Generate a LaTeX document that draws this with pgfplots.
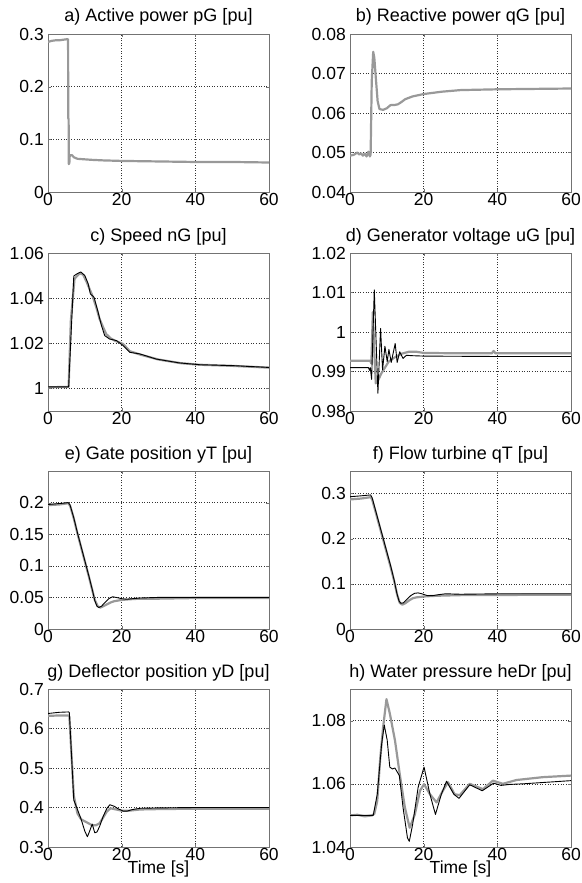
\documentclass[border=0pt]{standalone}
\usepackage{pgfplots}
\pgfplotsset{compat=1.18}
\usepackage{fontspec}
\setmainfont{Liberation Sans}

\pgfplotsset{
  panel/.style={
    scale only axis, width=221pt, height=158pt,
    anchor=north west,
    xmin=0, xmax=60, xtick={0,20,40,60}, xticklabels={0,20,40,60},
    scaled y ticks=false, scaled x ticks=false,
    grid=major,
    major grid style={black!80, line width=0.5pt, dash pattern=on 1pt off 1.6pt},
    axis line style={black!55, line width=0.8pt},
    tick align=inside, major tick length=3pt, tick style={black!55},
    font=\fontsize{17.5}{20}\selectfont,
    title style={font=\fontsize{18}{21}\selectfont, at={(0.5,1)}, anchor=base, yshift=6pt, inner sep=0pt},
    xticklabel style={inner sep=1pt},
    yticklabel style={inner sep=0pt, xshift=-4pt},
    xlabel style={at={(0.5,0)}, anchor=north, yshift=-14pt, inner sep=0pt},
  },
  meas/.style={color=black!40, line width=2.2pt, line join=round},
  sim/.style={color=black, line width=0.9pt, line join=round},
}

\begin{document}
\begin{tikzpicture}
\useasboundingbox (0,0) rectangle (581pt,-883pt);

% a) active power
\begin{axis}[panel, at={(48pt,-34pt)},
  title={a) Active power pG [pu]},
  ymin=0, ymax=0.3, ytick={0,0.1,0.2,0.3}, yticklabels={0,0.1,0.2,0.3}]
\addplot[meas] coordinates {
(0,0.285)(1,0.287)(2,0.288)(3,0.288)(4,0.289)(5,0.290)(5.45,0.290)(5.5,0.140)
(5.6,0.138)(5.65,0.053)(5.8,0.055)(5.9,0.070)(6.5,0.070)(7,0.066)(8,0.063)
(10,0.062)(12,0.061)(15,0.060)(20,0.059)(30,0.058)(40,0.057)(50,0.057)(60,0.056)};
\end{axis}

% b) reactive power
\begin{axis}[panel, at={(350pt,-34pt)},
  title={b) Reactive power qG [pu]},
  ymin=0.04, ymax=0.08, ytick={0.04,0.05,0.06,0.07,0.08},
  yticklabels={0.04,0.05,0.06,0.07,0.08}]
\addplot[meas] coordinates {
(0,0.0492)(1,0.0494)(2,0.0500)(2.5,0.0495)(3,0.0498)(3.5,0.0492)(4,0.0497)
(4.5,0.0490)(5,0.0502)(5.4,0.0490)(5.6,0.0495)(5.9,0.0680)(6.3,0.0755)
(6.6,0.0740)(7,0.0690)(7.5,0.0630)(8,0.0610)(9,0.0608)(10,0.0612)(11,0.0620)
(12,0.0620)(13,0.0622)(14,0.0628)(15,0.0635)(17,0.0642)(20,0.0648)(25,0.0654)
(30,0.0658)(40,0.0660)(50,0.0661)(60,0.0662)};
\end{axis}

% c) speed
\begin{axis}[panel, at={(48pt,-253pt)},
  title={c) Speed nG [pu]},
  ymin=0.99, ymax=1.06, ytick={1,1.02,1.04,1.06}, yticklabels={1,1.02,1.04,1.06}]
\addplot[meas] coordinates {
(0,1.0005)(5.6,1.0007)(6.2,1.030)(7.2,1.0486)(8.6,1.0510)(9.5,1.0505)(10.4,1.0475)
(11.3,1.0440)(12.2,1.0405)(13.1,1.0360)(14.0,1.0308)(15.0,1.0270)(15.8,1.0241)
(17.0,1.0222)(18.1,1.0212)(20.4,1.0197)(22.2,1.0165)(25,1.0150)(30,1.0128)
(36,1.0112)(41,1.0105)(50,1.0100)(60,1.0092)};
\addplot[sim] coordinates {
(0,1.0007)(5.6,1.0007)(7.0,1.0498)(7.9,1.0508)(8.9,1.0516)(10.0,1.0500)
(10.9,1.0464)(11.5,1.0419)(12.5,1.0404)(13.6,1.0338)(14.5,1.0279)(15.4,1.0234)
(16.7,1.0219)(18.6,1.0212)(20.4,1.0190)(22.2,1.0160)(24.9,1.0153)(29.4,1.0130)
(35.7,1.0113)(41.2,1.0105)(50.2,1.0101)(60,1.0093)};
\end{axis}

% d) generator voltage
\begin{axis}[panel, at={(350pt,-253pt)},
  title={d) Generator voltage uG [pu]},
  ymin=0.98, ymax=1.02, ytick={0.98,0.99,1,1.01,1.02},
  yticklabels={0.98,0.99,1,1.01,1.02}]
\addplot[meas] coordinates {
(0,0.9927)(3,0.9927)(5.5,0.9927)(5.8,0.9920)(6.2,1.0050)(6.6,0.9950)(7.0,0.9870)
(7.5,0.9875)(8.5,0.9895)(9.5,0.9910)(10.5,0.9925)(12,0.9935)(14,0.9945)
(16,0.9950)(18,0.9950)(20,0.9947)(30,0.9946)(38.5,0.9946)(39,0.9952)(39.5,0.9946)
(60,0.9946)};
\addplot[sim] coordinates {
(0,0.9910)(5,0.9910)(5.3,0.9903)(5.5,0.9910)(5.87,0.9880)(6.59,1.0107)
(7.58,0.9845)(8.30,1.0009)(8.84,0.9904)(9.48,0.9964)(10.1,0.9925)(10.56,0.9956)
(11.19,0.9923)(12.27,0.9971)(12.8,0.9923)(13.5,0.9950)(14.4,0.9933)(15.3,0.9941)
(17,0.9940)(20,0.9939)(40,0.9938)(60,0.9938)};
\end{axis}

% e) gate position
\begin{axis}[panel, at={(48pt,-471pt)},
  title={e) Gate position yT [pu]},
  ymin=0, ymax=0.25, ytick={0,0.05,0.1,0.15,0.2}, yticklabels={0,0.05,0.1,0.15,0.2}]
\addplot[meas] coordinates {
(0,0.196)(3,0.197)(5.5,0.199)(6,0.195)(7,0.175)(8,0.151)(9,0.129)(10,0.107)
(11,0.085)(12,0.062)(12.7,0.046)(13.5,0.036)(14.2,0.034)(15,0.036)(16,0.039)
(17,0.042)(18,0.044)(20,0.046)(22,0.047)(25,0.048)(30,0.048)(40,0.049)(60,0.049)};
\addplot[sim] coordinates {
(0,0.197)(2,0.198)(4,0.199)(5.5,0.200)(6,0.196)(7,0.176)(8,0.152)(9,0.130)
(10,0.108)(11,0.086)(12,0.063)(12.7,0.045)(13.3,0.036)(13.8,0.034)(14.5,0.036)
(15.5,0.042)(16.5,0.048)(17.5,0.051)(18.5,0.050)(20,0.048)(21.5,0.047)(23,0.048)
(25,0.049)(30,0.050)(40,0.050)(50,0.050)(60,0.050)};
\end{axis}

% f) flow turbine
\begin{axis}[panel, at={(350pt,-471pt)},
  title={f) Flow turbine qT [pu]},
  ymin=0, ymax=0.35, ytick={0,0.1,0.2,0.3}, yticklabels={0,0.1,0.2,0.3}]
\addplot[meas] coordinates {
(0,0.287)(3,0.289)(5.6,0.292)(6,0.287)(7,0.258)(8,0.228)(9,0.198)(10,0.168)
(11,0.138)(12,0.106)(12.8,0.076)(13.5,0.058)(14.2,0.054)(15,0.057)(16,0.063)
(17,0.068)(18,0.070)(20,0.072)(22,0.073)(25,0.074)(30,0.075)(40,0.075)(50,0.076)
(60,0.076)};
\addplot[sim] coordinates {
(0,0.293)(3,0.295)(5.6,0.297)(6,0.291)(7,0.261)(8,0.231)(9,0.201)(10,0.171)
(11,0.141)(12,0.108)(12.7,0.080)(13.3,0.062)(13.8,0.057)(14.5,0.058)(15.5,0.066)
(16.5,0.074)(17.5,0.079)(18.5,0.080)(19.5,0.078)(21,0.074)(22.5,0.074)(24,0.076)
(26,0.078)(30,0.077)(40,0.078)(50,0.078)(60,0.078)};
\end{axis}

% g) deflector position
\begin{axis}[panel, at={(48pt,-689pt)},
  title={g) Deflector position yD [pu]}, xlabel={Time [s]},
  ymin=0.3, ymax=0.7, ytick={0.3,0.4,0.5,0.6,0.7}, yticklabels={0.3,0.4,0.5,0.6,0.7}]
\addplot[meas] coordinates {
(0,0.632)(3,0.633)(5.6,0.633)(5.8,0.630)(7,0.430)(8,0.385)(9,0.370)(10,0.365)
(11,0.360)(12,0.355)(13,0.355)(14,0.360)(15,0.375)(16,0.390)(17,0.398)(18,0.396)
(20,0.392)(22,0.392)(25,0.395)(30,0.396)(40,0.397)(60,0.397)};
\addplot[sim] coordinates {
(0,0.638)(3,0.641)(5.6,0.642)(5.8,0.640)(7,0.419)(8,0.395)(9,0.370)(10,0.340)
(10.7,0.326)(11.3,0.340)(12,0.358)(12.7,0.336)(13.3,0.338)(14,0.352)(15,0.378)
(16,0.398)(16.8,0.407)(18,0.403)(19,0.397)(20.4,0.391)(21.5,0.391)(23,0.395)
(25,0.398)(30,0.399)(40,0.400)(60,0.400)};
\end{axis}

% h) water pressure
\begin{axis}[panel, at={(350pt,-689pt)},
  title={h) Water pressure heDr [pu]}, xlabel={Time [s]},
  ymin=1.04, ymax=1.09, ytick={1.04,1.06,1.08}, yticklabels={1.04,1.06,1.08}]
\addplot[meas] coordinates {
(0,1.0500)(2,1.0502)(4,1.0497)(6,1.0500)(6.6,1.0505)(7.4,1.0546)(8.2,1.0680)
(9.0,1.0780)(9.9,1.0868)(10.8,1.0823)(12.2,1.0738)(13.5,1.0631)(14.9,1.0525)
(16.2,1.0461)(17.6,1.0503)(19,1.0578)(20.1,1.0599)(21.7,1.0567)(23.5,1.0541)
(25.3,1.0580)(26.6,1.0605)(28.4,1.0567)(29.8,1.0564)(32.5,1.0600)(36.1,1.0583)
(38.8,1.0610)(41.5,1.0600)(45.2,1.0612)(52.3,1.0621)(60,1.0626)};
\addplot[sim] coordinates {
(0,1.0500)(6.3,1.0500)(7.4,1.0567)(8.6,1.0727)(9.3,1.0786)(10.1,1.0738)
(10.8,1.0653)(11.5,1.0647)(12.2,1.0650)(13.4,1.0626)(14.4,1.0525)(15.6,1.0429)
(16.1,1.0418)(17,1.0471)(18.5,1.0589)(20.1,1.0653)(21.7,1.0567)(23.2,1.0503)
(24.8,1.0567)(26.2,1.0608)(28.2,1.0567)(29.6,1.0554)(32.5,1.0597)(35.9,1.0578)
(39,1.0602)(41,1.0595)(43.3,1.0598)(47,1.0600)(60,1.0610)};
\end{axis}
\end{tikzpicture}
\end{document}
